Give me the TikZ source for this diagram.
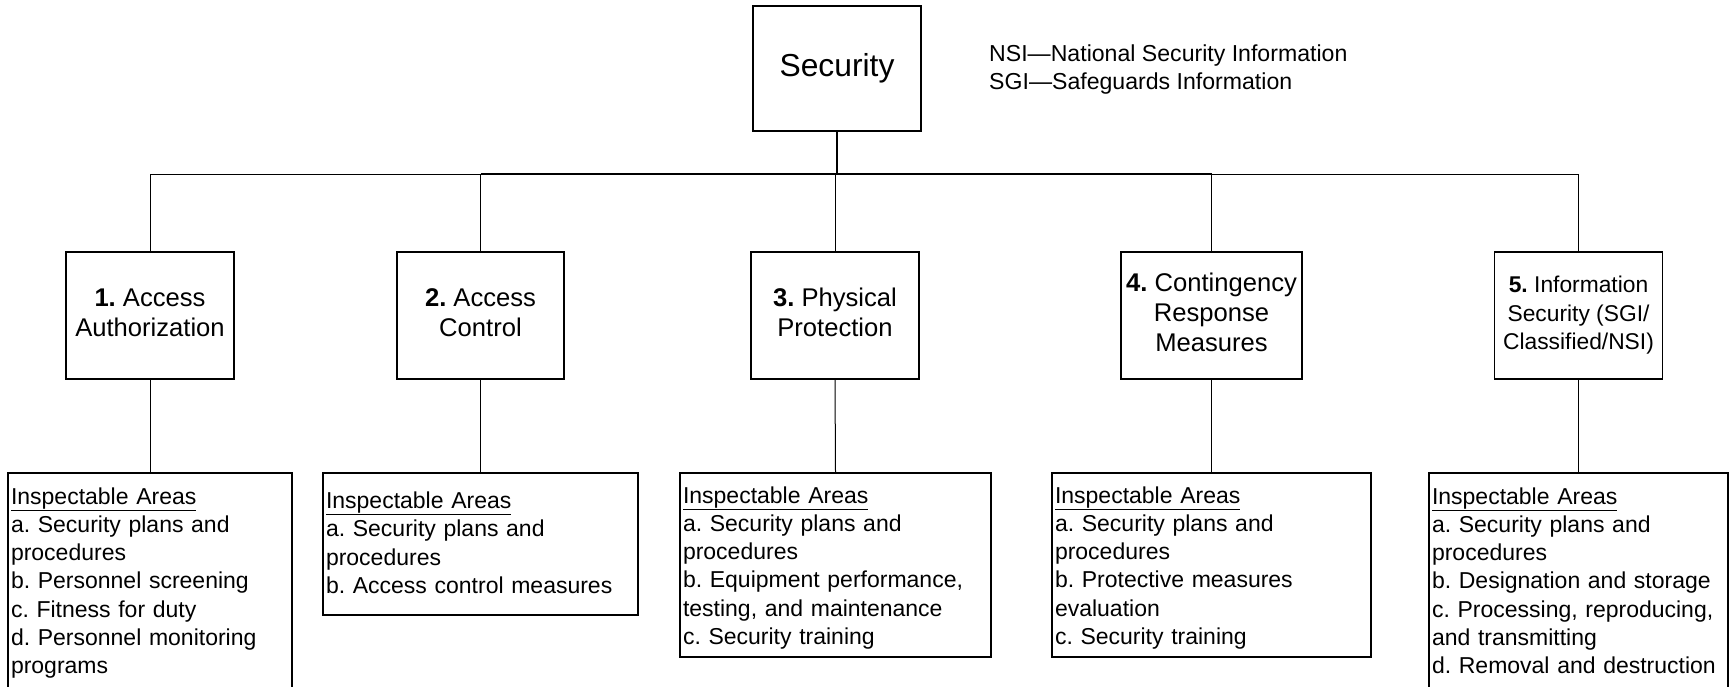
\documentclass[tikz,border=0pt]{standalone}
\usepackage{fontspec}
\setmainfont{Liberation Sans}
\newcommand{\fl}[1]{\rule{0pt}{#1pt}}
\frenchspacing
\begin{document}
\frenchspacing
\begin{tikzpicture}[x=1pt,y=-1pt,
  box/.style={draw=black, line width=1.3pt, rectangle, inner sep=0pt},
  topbox/.style={box, minimum width=168pt, minimum height=125pt, font=\fontsize{31.8}{36}\selectfont},
  lvl/.style={box, align=center, minimum height=127pt, font=\fontsize{25.6}{30}\selectfont},
  area/.style={box, align=left, inner xsep=3pt, inner ysep=0pt, font=\fontsize{23}{28.3}\selectfont},
  conn/.style={line width=1pt, draw=black},
  stem/.style={line width=2pt, draw=black},
  busline/.style={line width=1.6pt, draw=black}
]
\useasboundingbox[fill=white] (0,0) rectangle (1729,686);

% top
\node[topbox] (sec) at (837,68.5) {Security};
\node[anchor=north west, inner sep=0pt, align=left, font=\fontsize{23.1}{27.6}\selectfont] (legend) at (989,42.4)
  {\strut NSI—National Security Information\\SGI—Safeguards Information\strut};

% level 2
\node[lvl, minimum width=168pt] (b1) at (150,315.5) {\strut\textbf{1.} Access\\Authorization\strut};
\node[lvl, minimum width=167pt] (b2) at (480.5,315.5) {\strut\textbf{2.} Access\\Control\strut};
\node[lvl, minimum width=168pt] (b3) at (835,315.5) {\strut\textbf{3.} Physical\\Protection\strut};
\node[lvl, minimum width=181pt] (b4) at (1211.5,315.5) {\strut\textbf{4.} Contingency\\Response\\Measures\strut};
\node[lvl, minimum width=168pt, font=\fontsize{22.8}{28.3}\selectfont] (b5) at (1578.5,315.5) {\strut\textbf{5.} Information\\Security (SGI/\\Classified/NSI)\strut};

% level 3
\node[area, text width=278pt, minimum height=217pt] (c1) at (150,581.5)
  {\fl{23.3}\underline{Inspectable Areas}\\a. Security plans and\\procedures\\b. Personnel screening\\c. Fitness for duty\\d. Personnel monitoring\\programs\strut};
\node[area, text width=309pt, minimum height=142pt] (c2) at (480.5,544)
  {\fl{22.4}\underline{Inspectable Areas}\\a. Security plans and\\procedures\\b. Access control measures\strut};
\node[area, text width=305pt, minimum height=184pt] (c3) at (835.5,565)
  {\fl{26}\underline{Inspectable Areas}\\a. Security plans and\\procedures\\b. Equipment performance,\\testing, and maintenance\\c. Security training\strut};
\node[area, text width=313pt, minimum height=184pt] (c4) at (1211.5,565)
  {\fl{26}\underline{Inspectable Areas}\\a. Security plans and\\procedures\\b. Protective measures\\evaluation\\c. Security training\strut};
\node[area, text width=293pt, minimum height=217pt] (c5) at (1578.5,581.5)
  {\fl{23.3}\underline{Inspectable Areas}\\a. Security plans and\\procedures\\b. Designation and storage\\c. Processing, reproducing,\\and transmitting\\d. Removal and destruction\strut};

% connectors
\coordinate (bus) at (837,174);
\draw[stem] (sec.south) -- (bus);
\draw[conn] (bus) -| (b1.north);
\draw[conn] (bus) -| (b2.north);
\draw[conn] (bus) -| (b3.north);
\draw[conn] (bus) -| (b4.north);
\draw[conn] (bus) -| (b5.north);
\draw[busline] (bus -| b2.north) -- (bus -| b4.north);
\draw[conn] (b1.south) -- (c1.north);
\draw[conn] (b2.south) -- (c2.north);
\draw[conn] (b3.south) -- (c3.north);
\draw[conn] (b4.south) -- (c4.north);
\draw[conn] (b5.south) -- (c5.north);
\end{tikzpicture}
\end{document}
